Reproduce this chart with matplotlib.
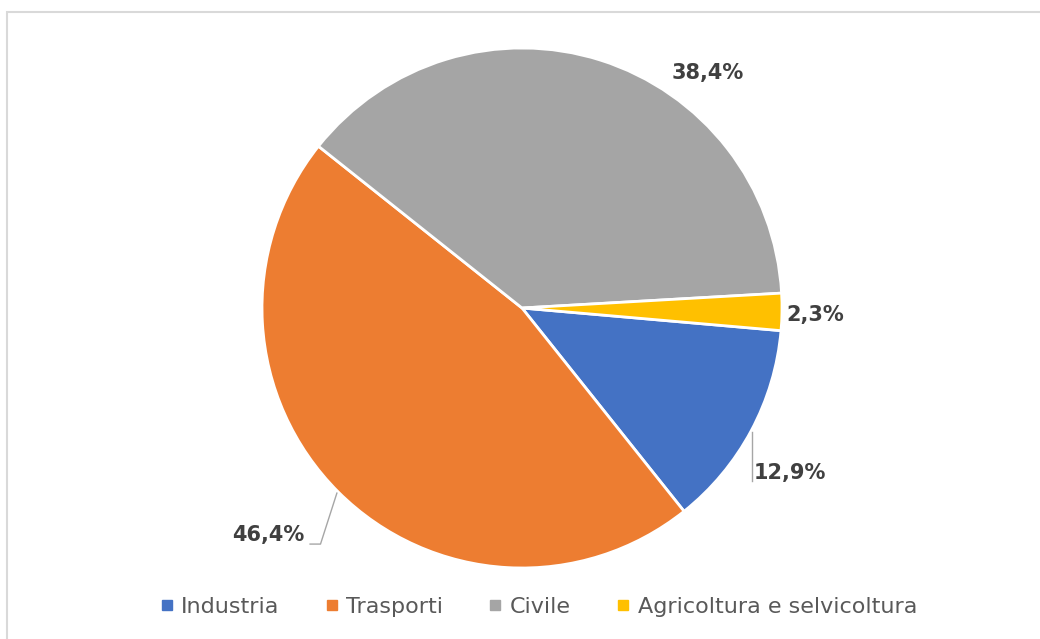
import matplotlib.pyplot as plt
from matplotlib.lines import Line2D
from matplotlib.patches import Rectangle

categories = ['Industria', 'Trasporti', 'Civile', 'Agricoltura e selvicoltura']
shares = [12.9, 46.4, 38.4, 2.3]
value_labels = ['12,9%', '46,4%', '38,4%', '2,3%']
colors = ['#4472C4', '#ED7D31', '#A5A5A5', '#FFC000']

fig = plt.figure(figsize=(10.4, 6.39), dpi=100)

# bordo grigio del grafico (come in Excel), tagliato a destra e in basso
fig.patches.append(Rectangle((7 / 1040, -0.1), 1.1, (639 - 12) / 639 + 0.1, transform=fig.transFigure,
                             fill=False, edgecolor='#D9D9D9', linewidth=1.5))

# asse quadrato: centro torta a (522, 308) px, raggio 260 px
ax = fig.add_axes([262 / 1040, 71 / 639, 520 / 1040, 520 / 639])
ax.pie(shares, colors=colors, startangle=-5, counterclock=False, radius=1,
       wedgeprops=dict(edgecolor='white', linewidth=2))
ax.set_xlim(-1, 1)
ax.set_ylim(-1, 1)
ax.set_aspect('equal')
ax.axis('off')

# posizioni etichette (coordinate dati, raggio = 1)
label_pos = [(1.03, -0.635), (-0.975, -0.875), (0.715, 0.905), (1.127, -0.027)]
for txt, (x, y) in zip(value_labels, label_pos):
    ax.text(x, y, txt, ha='center', va='center', fontsize=15, fontweight='bold',
            color='#404040', clip_on=False)

# linee guida
ax.plot([0.885, 0.885], [-0.477, -0.665], color='#A6A6A6', lw=1, clip_on=False)
ax.plot([-0.815, -0.775, -0.712], [-0.908, -0.908, -0.712], color='#A6A6A6', lw=1, clip_on=False)

handles = [Line2D([], [], marker='s', linestyle='none', markersize=7,
                  markerfacecolor=c, markeredgecolor=c) for c in colors]
leg = fig.legend(handles, categories, loc='center', bbox_to_anchor=(538 / 1040, 32 / 639),
                 ncol=4, frameon=False, fontsize=16, handletextpad=0.3, columnspacing=2.0,
                 handlelength=0.7)
for t in leg.get_texts():
    t.set_color('#595959')

fig.savefig('out.png', dpi=100)
